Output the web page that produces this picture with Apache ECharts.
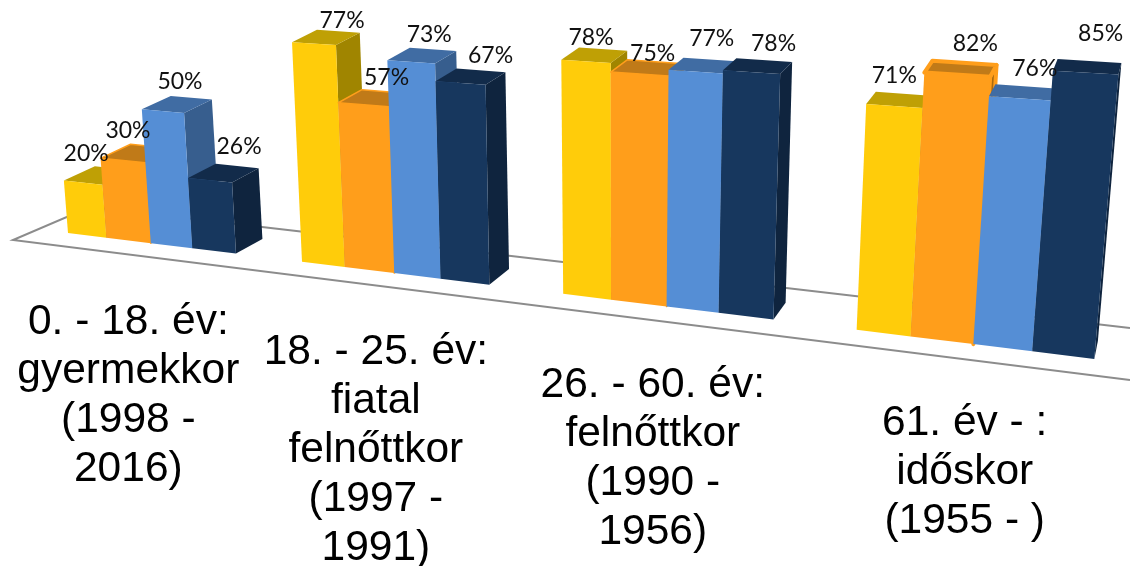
<!DOCTYPE html>
<html>
<head>
<meta charset="utf-8">
<style>html,body{margin:0;padding:0;background:#fff}#c{width:1130px;height:566px}</style>
<script src="https://cdn.jsdelivr.net/npm/echarts@6/dist/echarts.min.js"></script>
</head>
<body>
<div id="c"></div>
<script>
const categories = [
  "0. - 18. év:\ngyermekkor\n(1998 -\n2016)",
  "18. - 25. év:\nfiatal\nfelnőttkor\n(1997 -\n1991)",
  "26. - 60. év:\nfelnőttkor\n(1990 -\n1956)",
  "61. év - :\nidőskor\n(1955 - )"
];
const yellowValues = [20, 77, 78, 71];
const orangeValues = [30, 57, 75, 82];
const blueValues   = [50, 73, 77, 76];
const navyValues   = [26, 67, 78, 85];

// styling and layout, not data
const faces = [
  {front:'#FFCC0A', top:'#BFA005', side:'#A08500'},
  {front:'#FF9E1B', top:'#C07A18', side:'#A9690F', edge:'#FF9E1B'},
  {front:'#558ED5', top:'#406CA3', side:'#375E8E'},
  {front:'#17375E', top:'#122B4A', side:'#0F243E'}
];
const labelNudge = [
  [[3,-29],[28,-23],[5,-24],[0,-30]],
  [[5,-30],[23,-27],[13,-20],[18,-31]],
  [[17,-30],[18,-27],[16,-33],[15,-30]],
  [[29,-34],[30,-27],[22,-29],[15,-39]]
];
const slotEdges = [0, 0.96, 2.05, 3.05, 4.08];
const groupPitch = 5.6;
const groupLift = [1, 1.025, 1.013, 1.005];
const G = {left:68, top:36, width:840, height:264}; // flat plane: 40px per slot, 2.64px per percent

// perspective of the flat plane onto the sloping floor
function project(p) {
  const u = (p[0] - G.left) / 40;
  const h0 = G.top + G.height - p[1];
  const x0 = -4191 + 4259 / (1 - 0.0093 * u);
  const yFloor = 233 + 0.1227 * (x0 - 68);
  const lift = groupLift[Math.min(3, Math.floor((u + 0.001) / groupPitch))];
  const h = lift * h0 * (2.62 + (x0 - 68) * 0.00069) / 2.64;
  const lean = (x0 - 620) / (x0 < 620 ? 7000 : 5600);
  return {x: x0 + lean * h, y: yFloor - h, h: h};
}
function back(q) {
  const dx = 31 - (q.x - 64) * 0.0266;
  const dy = q.h > 0 ? 15 - q.h * 0.012 : 14 + (q.x - 64) * 0.004;
  return [q.x + dx, q.y - dy];
}
const xy = q => [q.x, q.y];

function barRenderer(s) {
  return function (params, api) {
    const g = api.value(0), v = api.value(1);
    const uL = g * groupPitch + slotEdges[s], uR = g * groupPitch + slotEdges[s + 1];
    const fbl = project(api.coord([uL, 0])), fbr = project(api.coord([uR, 0]));
    const ftl = project(api.coord([uL, v])), ftr = project(api.coord([uR, v]));
    const c = faces[s];
    const edge = c.edge ? {stroke: c.edge, lineWidth: g === 3 ? 4 : 1.5, lineJoin: 'round'} : {};
    const poly = (pts, fill, extra) => ({type: 'polygon', shape: {points: pts}, style: Object.assign({fill: fill}, extra || {})});
    return {type: 'group', children: [
      poly([xy(fbr), xy(ftr), back(ftr), back(fbr)], c.side, edge),
      poly([xy(ftl), xy(ftr), back(ftr), back(ftl)], c.top, edge),
      poly([xy(fbl), xy(fbr), xy(ftr), xy(ftl)], c.front)
    ]};
  };
}
function labelRenderer(s) {
  return function (params, api) {
    const g = api.value(0), v = api.value(1);
    const uL = g * groupPitch + slotEdges[s], uR = g * groupPitch + slotEdges[s + 1];
    const ftl = project(api.coord([uL, v])), ftr = project(api.coord([uR, v]));
    const n = labelNudge[s][g];
    return {type: 'text', style: {
      text: v + '%', x: (ftl.x + ftr.x) / 2 + n[0], y: (ftl.y + ftr.y) / 2 + n[1],
      align: 'center', verticalAlign: 'middle',
      font: '23px Lato, sans-serif', fill: '#111'
    }};
  };
}
function categoryRenderer(params, api) {
  const g = api.value(0);
  const uMid = g * groupPitch + slotEdges[4] / 2;
  const m = project(api.coord([uMid, 0]));
  return {type: 'text', style: {
    text: categories[g],
    x: m.x - 22 + (m.x - 152) * 0.017, y: m.y + 54.5,
    align: 'center', verticalAlign: 'top',
    font: '42.5px "Liberation Sans", Arial, sans-serif', lineHeight: 49, fill: '#000'
  }};
}
const valueSets = [yellowValues, orangeValues, blueValues, navyValues];
const toData = vals => vals.map((v, g) => [g, v]);
const chart = echarts.init(document.getElementById('c'), null, {renderer: 'canvas'});
chart.setOption({
  animation: false,
  backgroundColor: '#fff',
  grid: {left: G.left, top: G.top, width: G.width, height: G.height},
  xAxis: {type: 'value', min: 0, max: 21, show: false},
  yAxis: {type: 'value', min: 0, max: 100, show: false},
  graphic: {elements: [
    {type: 'polyline', z: 0, shape: {points: [[1130, 328], [262, 227], [90, 207], [13, 240], [1130, 380]]},
     style: {stroke: '#8C8C8C', lineWidth: 2, fill: null}}
  ]},
  series: valueSets.map((vals, s) => ({
    type: 'custom', coordinateSystem: 'cartesian2d', z: 3 + s, clip: false,
    renderItem: barRenderer(s), encode: {x: 0, y: 1}, data: toData(vals)
  })).concat(valueSets.map((vals, s) => ({
    type: 'custom', coordinateSystem: 'cartesian2d', z: 9, clip: false,
    renderItem: labelRenderer(s), encode: {x: 0, y: 1}, data: toData(vals)
  }))).concat([{
    type: 'custom', coordinateSystem: 'cartesian2d', z: 10, clip: false,
    renderItem: categoryRenderer, encode: {x: 0}, data: categories.map((c, g) => [g, 0])
  }])
});
</script>
</body>
</html>
